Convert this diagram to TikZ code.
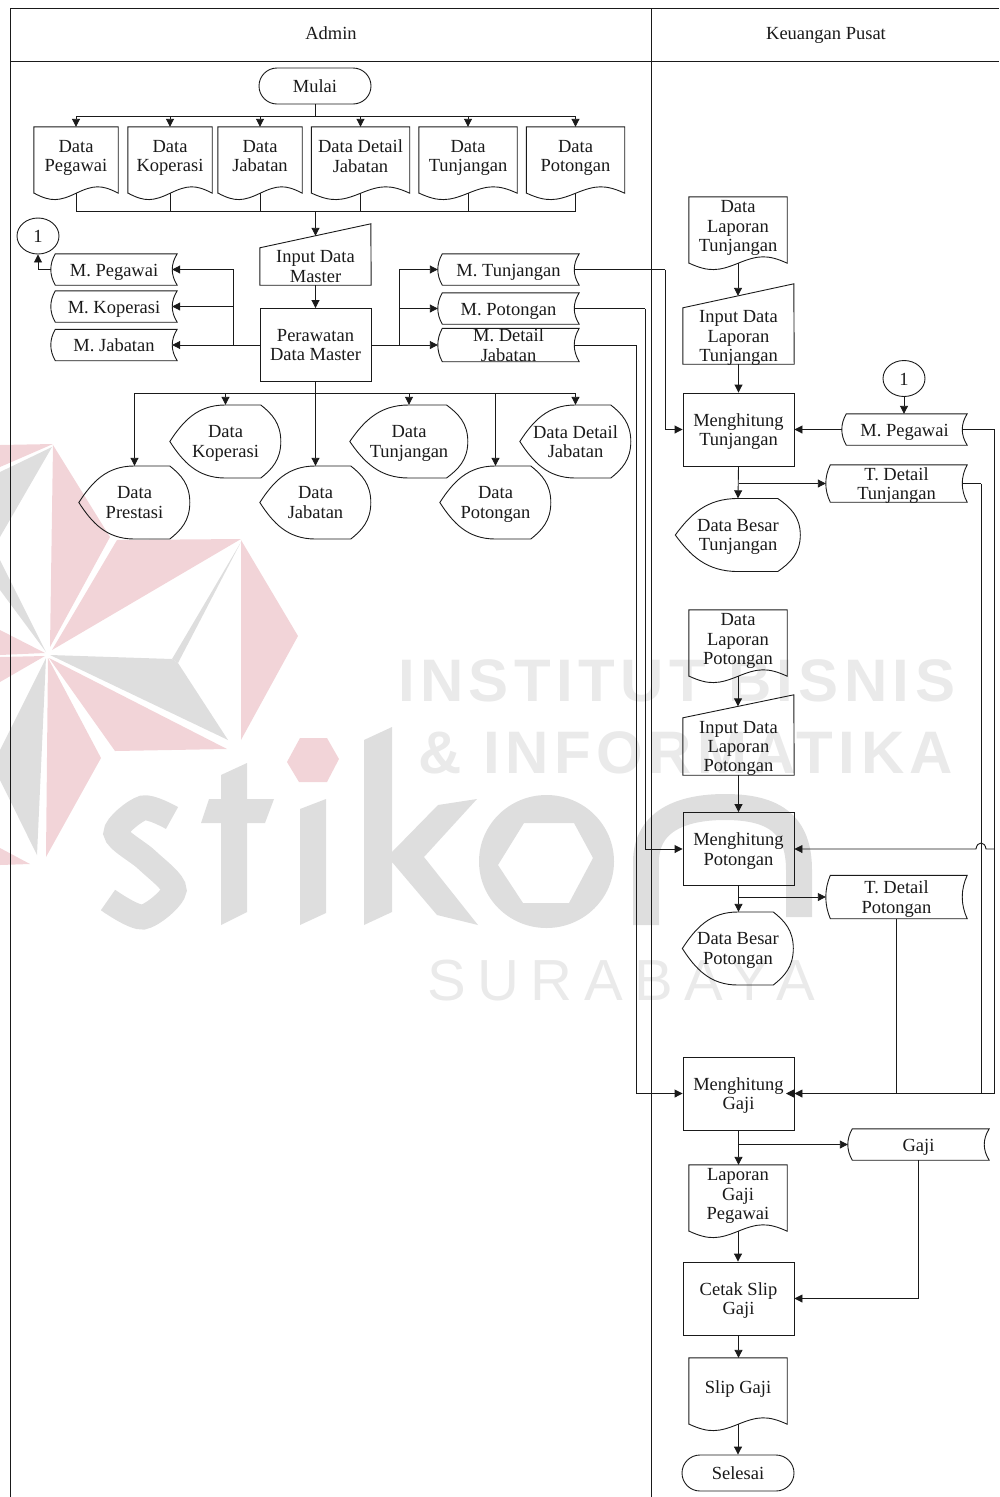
\documentclass[tikz,border=0pt]{standalone}
\usepackage{fontspec}
\setmainfont{Liberation Serif}
\newfontfamily\markFontA[LetterSpace=9]{Liberation Sans}
\newfontfamily\markFontB[LetterSpace=9]{Liberation Sans}
\newfontfamily\markFontC[LetterSpace=20]{Liberation Sans}
\usetikzlibrary{arrows.meta,shapes.geometric}

\tikzset{
    shapeLine/.style={draw=lineColour, line width=0.9pt},
    flowLine/.style={draw=lineColour, line width=0.9pt},
    flowArrow/.style={flowLine, -{Triangle[length=8pt,width=8pt]}},
    plainText/.style={align=center, inner sep=0pt, text=textColour, font=\fontsize{18.5}{19.2}\selectfont,
        text depth=0pt, execute at begin node={\strut}, execute at end node={\strut}},
    procBox/.style={plainText, shapeLine, rectangle, minimum width=111, minimum height=73},
    startStop/.style={plainText, shapeLine, rectangle, rounded corners=18pt, minimum width=112, minimum height=36},
    connectOne/.style={plainText, shapeLine, ellipse, minimum width=42, minimum height=36},
    % page shape: the wave hangs 8 below the node
    docShape/.style 2 args={plainText, minimum width=#1, minimum height=58,
        append after command={\pgfextra{
            \edef\thisShape{\tikzlastnode}
            \draw[shapeLine] ([yshift=-8pt]\thisShape.south west) -- (\thisShape.north west)
                -- (\thisShape.north east) -- ([yshift=-8pt]\thisShape.south east)
                .. controls +(-.2*#1,-9) and +(.2*#1,-8) .. ++(-.5*#1,0)
                .. controls +(-.2*#1,8) and +(.2*#1,9) .. ++(-.5*#1,0) -- cycle;
            \coordinate (\thisShape-b) at ([yshift=-8pt]\thisShape.south);
        }}},
    % slanted top rises #3 above the node
    inputShape/.style n args={3}{plainText, minimum width=#1, minimum height=#2,
        append after command={\pgfextra{
            \edef\thisShape{\tikzlastnode}
            \draw[shapeLine] (\thisShape.north west) -- ++(#1,-#3)
                -- (\thisShape.south east) -- (\thisShape.south west) -- cycle;
            \coordinate (\thisShape-t) at ([yshift=.5*#3 pt]\thisShape.north);
        }}},
    storeShape/.style 2 args={plainText, minimum width=#1, minimum height=#2,
        append after command={\pgfextra{
            \edef\thisShape{\tikzlastnode}
            \draw[shapeLine] ([xshift=4.5pt]\thisShape.north west)
                .. controls +(-6,.33*#2) and +(-6,-.33*#2) .. ([xshift=4.5pt]\thisShape.south west)
                -- (\thisShape.south east)
                .. controls +(-6.6,-.33*#2) and +(-6.6,.33*#2) .. (\thisShape.north east) -- cycle;
            \coordinate (\thisShape-e) at ([xshift=-5pt]\thisShape.east);
        }}},
    dispShape/.style 2 args={plainText, minimum width=#1, minimum height=#2,
        append after command={\pgfextra{
            \edef\thisShape{\tikzlastnode}
            \draw[shapeLine] (\thisShape.west)
                .. controls +(.12*#1,-.28*#2) and +(-.25*#1,0) .. ++(.5*#1,-.5*#2)
                -- ++(.32*#1,0)
                .. controls +(.1*#1,.12*#2) and +(0,-.25*#2) .. ++(.18*#1,.5*#2)
                .. controls +(0,.25*#2) and +(.1*#1,-.12*#2) .. ++(-.18*#1,.5*#2)
                -- ++(-.32*#1,0)
                .. controls +(-.25*#1,0) and +(.12*#1,.28*#2) .. (\thisShape.west) -- cycle;
        }}}
}

\begin{document}
\begin{tikzpicture}[x=1pt,y=-1pt]
    \definecolor{lineColour}{HTML}{1A1A1A}
    \definecolor{textColour}{HTML}{1A1A1A}
    \definecolor{markPink}{HTML}{F2D4D8}
    \definecolor{markGrey}{HTML}{DEDEDE}
    \definecolor{markText}{HTML}{EAEAEA}

    \useasboundingbox (0,0) rectangle (999,1497);

    % Watermark star
    \fill[markPink] (0,445) -- (53,444) -- (0,467) -- cycle;
    \fill[markGrey] (52,447) -- (0,472) -- (0,537) -- cycle;
    \fill[markGrey] (0,560) -- (46,652) -- (0,590) -- cycle;
    \fill[markPink] (53,445) -- (110,537) -- (50,647) -- cycle;
    \fill[markPink] (117,540) -- (241,539) -- (52,650) -- cycle;
    \fill[markGrey] (241,542) -- (178,663) -- (172,659) -- cycle;
    \fill[markGrey] (50,655) -- (172,659) -- (178,663) -- (228,740) -- cycle;
    \fill[markPink] (241,540) -- (298,636) -- (241,740) -- cycle;
    \fill[markPink] (49,658) -- (227,749) -- (115,751) -- cycle;
    \fill[markPink] (48,658) -- (101,758) -- (46,857) -- cycle;
    \fill[markGrey] (46,658) -- (37,855) -- (0,780) -- (0,750) -- cycle;
    \fill[markPink] (0,848) -- (30,864) -- (0,865) -- cycle;
    \fill[markPink] (0,630) -- (45,653) -- (0,655) -- cycle;
    \fill[markPink] (0,657) -- (45,656) -- (0,682) -- cycle;

    % Watermark word
    \draw[markGrey, line width=25pt] plot[smooth] coordinates {(172,818) (143,808) (116,833) (147,860) (174,890) (143,917) (108,900)};
    \fill[markGrey] (221,775) -- (247,763) -- (247,799) -- (274,799) -- (265,823) -- (247,823) -- (247,912) -- (221,925) -- (221,823) -- (201,823) -- (209,799) -- (221,799) -- cycle;
    \fill[markPink] (300,738) -- (327,738) -- (339,759) -- (327,782) -- (299,782) -- (287,762) -- cycle;
    \fill[markGrey] (300,809) -- (326,799) -- (326,913) -- (300,925) -- cycle;
    \fill[markGrey] (364,740) -- (392,727) -- (392,852) -- (438,805) -- (477,799) -- (424,857) -- (478,925) -- (437,915) -- (392,862) -- (392,912) -- (364,925) -- cycle;
    \fill[markGrey, even odd rule] (546.5,861.5) ellipse [x radius=67.5, y radius=66.5]
        (524,823) -- (574,823) -- (593,858) -- (569,903) -- (523,903) -- (498,865) -- cycle;
    \draw[markGrey, line width=26pt] (646,925) -- (646,862) .. controls (646,822) and (680,807) .. (725,807) .. controls (775,807) and (799,825) .. (799,870) -- (799,917);

    % Watermark lines
    \node[anchor=west, inner sep=0pt, text=markText, font=\markFontA\bfseries\fontsize{60}{60}\selectfont] (markOne) at (398,681) {INSTITUT BISNIS};
    \node[anchor=west, inner sep=0pt, text=markText, font=\markFontB\bfseries\fontsize{60}{60}\selectfont] (markTwo) at (418,753) {\& INFORMATIKA};
    \node[anchor=west, inner sep=0pt, text=markText, font=\markFontC\fontsize{58}{58}\selectfont] (markThree) at (427,981) {SURABAYA};

    % Swimlane frame
    \draw[flowLine] (10.5,1497) -- (10.5,8) -- (999,8);
    \draw[flowLine] (10.5,61.5) -- (999,61.5);
    \draw[flowLine] (651.5,8) -- (651.5,1497);
    \node[plainText] (laneAdmin) at (331,33) {Admin};
    \node[plainText] (laneKeuangan) at (826,33) {Keuangan Pusat};

    % Admin: start and source documents
    \node[startStop] (mulai) at (315,86) {Mulai};
    \node[docShape={84}{58}] (docPegawai) at (76,156) {Data\\Pegawai};
    \node[docShape={84}{58}] (docKoperasi) at (170,156) {Data\\Koperasi};
    \node[docShape={84}{58}] (docJabatan) at (260,156) {Data\\Jabatan};
    \node[docShape={98}{58}] (docDetail) at (360.5,156) {Data Detail\\Jabatan};
    \node[docShape={98}{58}] (docTunjangan) at (468,156) {Data\\Tunjangan};
    \node[docShape={98}{58}] (docPotongan) at (575.5,156) {Data\\Potongan};

    % Admin: input and process
    \node[inputShape={111}{37}{24}] (inputMaster) at (315.5,266.5) {Input Data\\Master};
    \node[procBox] (rawatMaster) at (315.5,345) {Perawatan\\Data Master};
    \node[connectOne] (oneLeft) at (38,236) {1};

    % Admin: master files
    \node[storeShape={126}{31}] (mPegawai) at (114,269.5) {M. Pegawai};
    \node[storeShape={126}{31}] (mKoperasi) at (114,306.5) {M. Koperasi};
    \node[storeShape={126}{31}] (mJabatan) at (114,345) {M. Jabatan};
    \node[storeShape={141}{31}] (mTunjangan) at (508.5,269.5) {M. Tunjangan};
    \node[storeShape={141}{31}] (mPotongan) at (508.5,308.5) {M. Potongan};
    \node[storeShape={141}{33}] (mDetail) at (508.5,345) {M. Detail\\Jabatan};

    % Admin: displays
    \node[dispShape={111}{73}] (dispPrestasi) at (134.5,502.5) {Data\\Prestasi};
    \node[dispShape={111}{73}] (dispKoperasi) at (225.5,441.5) {Data\\Koperasi};
    \node[dispShape={111}{73}] (dispJabatan) at (315.5,502.5) {Data\\Jabatan};
    \node[dispShape={118}{73}] (dispTunjangan) at (409,441.5) {Data\\Tunjangan};
    \node[dispShape={111}{73}] (dispPotongan) at (495.5,502.5) {Data\\Potongan};
    \node[dispShape={111}{73}] (dispDetail) at (575.5,441.5) {Data Detail\\Jabatan};

    % Keuangan: tunjangan
    \node[docShape={98}{58}] (lapTunjangan) at (738,226) {Data\\Laporan\\Tunjangan};
    \node[inputShape={111}{56}{24}] (inputTunjangan) at (738.5,336) {Input Data\\Laporan\\Tunjangan};
    \node[procBox] (hitTunjangan) at (738.5,429.5) {Menghitung\\Tunjangan};
    \node[connectOne] (oneRight) at (904,378.5) {1};
    \node[storeShape={125}{31}] (mPegawaiPusat) at (904.5,429.5) {M. Pegawai};
    \node[storeShape={141}{37}] (tTunjangan) at (896.5,483.5) {T. Detail\\Tunjangan};
    \node[dispShape={125}{73}] (besarTunjangan) at (738,535) {Data Besar\\Tunjangan};

    % Keuangan: potongan
    \node[docShape={98}{58}] (lapPotongan) at (738,639) {Data\\Laporan\\Potongan};
    \node[inputShape={111}{57}{23}] (inputPotongan) at (738.5,746.5) {Input Data\\Laporan\\Potongan};
    \node[procBox] (hitPotongan) at (738.5,849) {Menghitung\\Potongan};
    \node[storeShape={141}{43}] (tPotongan) at (896.5,897) {T. Detail\\Potongan};
    \node[dispShape={111}{73}] (besarPotongan) at (738,948.5) {Data Besar\\Potongan};

    % Keuangan: gaji
    \node[procBox] (hitGaji) at (738.5,1093.5) {Menghitung\\Gaji};
    \node[storeShape={141}{31}] (fileGaji) at (918.5,1144.5) {Gaji};
    \node[docShape={98}{58}] (lapGaji) at (738,1194) {Laporan\\Gaji\\Pegawai};
    \node[procBox] (cetakSlip) at (738.5,1298.5) {Cetak Slip\\Gaji};
    \node[docShape={98}{58}] (slipGaji) at (738,1387) {Slip Gaji};
    \node[startStop] (selesai) at (738,1473) {Selesai};

    % Buses and rails
    \coordinate (busTop) at (315,116);
    \coordinate (busDocs) at (315,211);
    \coordinate (busLeft) at (233,345);
    \coordinate (busRight) at (399,345);
    \coordinate (busDisp) at (315,393);
    \coordinate (railTunjangan) at (665,269.5);
    \coordinate (railPotongan) at (645,308.5);
    \coordinate (railDetail) at (636,345);
    \coordinate (railPegawai) at (994.5,429.5);
    \coordinate (railDetailT) at (981,483.5);
    \coordinate (hopRight) at (986,849);
    \coordinate (hopLeft) at (976,849);
    \coordinate (tipGaji) at (786,1093.5);
    \coordinate (branchTunjangan) at (738.5,483.5);
    \coordinate (branchPotongan) at (738.5,897);
    \coordinate (branchGaji) at (738.5,1144.5);

    % Start to documents to input
    \draw[flowLine] (mulai.south) -- (mulai.south |- busTop);
    \draw[flowLine] (busTop -| docPegawai.north) -- (busTop -| docPotongan.north);
    \foreach \docName in {docPegawai,docKoperasi,docJabatan,docDetail,docTunjangan,docPotongan} {
        \draw[flowArrow] (busTop -| \docName.north) -- (\docName.north);
        \draw[flowLine] (\docName-b) -- (busDocs -| \docName-b);
    }
    \draw[flowLine] (busDocs -| docPegawai-b) -- (busDocs -| docPotongan-b);
    \draw[flowArrow] (busDocs -| inputMaster-t) -- (inputMaster-t);
    \draw[flowArrow] (inputMaster.south) -- (rawatMaster.north);

    % Process to master files
    \draw[flowLine] (rawatMaster.west) -- (busLeft);
    \draw[flowLine] (rawatMaster.east) -- (busRight);
    \foreach \fileName in {mPegawai,mKoperasi,mJabatan}
        \draw[flowArrow] (busLeft) |- (\fileName-e);
    \foreach \fileName in {mTunjangan,mPotongan,mDetail}
        \draw[flowArrow] (busRight) |- (\fileName.west);
    \draw[flowArrow] (mPegawai.west) -| (oneLeft.south);

    % Process to displays
    \draw[flowLine] (rawatMaster.south) -- (rawatMaster.south |- busDisp);
    \draw[flowLine] (busDisp -| dispPrestasi.north) -- (busDisp -| dispDetail.north);
    \foreach \dispName in {dispPrestasi,dispKoperasi,dispJabatan,dispTunjangan,dispPotongan,dispDetail}
        \draw[flowArrow] (busDisp -| \dispName.north) -- (\dispName.north);

    % Master files across the lane
    \draw[flowLine] (mTunjangan-e) -- (railTunjangan);
    \draw[flowArrow] (railTunjangan) |- (hitTunjangan.west);
    \draw[flowLine] (mPotongan-e) -- (railPotongan);
    \draw[flowArrow] (railPotongan) |- (hitPotongan.west);
    \draw[flowLine] (mDetail-e) -- (railDetail);
    \draw[flowArrow] (railDetail) |- (hitGaji.west);

    % Tunjangan column
    \draw[flowArrow] (lapTunjangan-b) -- (lapTunjangan-b |- inputTunjangan-t);
    \draw[flowArrow] (inputTunjangan.south) -- (hitTunjangan.north);
    \draw[flowArrow] (oneRight.south) -- (oneRight.south |- mPegawaiPusat.north);
    \draw[flowArrow] (mPegawaiPusat.west) -- (hitTunjangan.east);
    \draw[flowArrow] (hitTunjangan.south) -- (besarTunjangan.north);
    \draw[flowArrow] (branchTunjangan) -- (tTunjangan.west);

    % Potongan column
    \draw[flowArrow] (lapPotongan-b) -- (lapPotongan-b |- inputPotongan-t);
    \draw[flowArrow] (inputPotongan.south) -- (hitPotongan.north);
    \draw[flowArrow] (hitPotongan.south) -- (hitPotongan.south |- besarPotongan.north);
    \draw[flowArrow] (branchPotongan) -- (tPotongan.west);
    \draw[flowArrow] (railPegawai |- hopRight) -- (hopRight) .. controls +(-1,-8) and +(1,-8) .. (hopLeft) -- (hitPotongan.east);

    % Inputs of gaji
    \draw[flowLine] (mPegawaiPusat-e) -- (railPegawai);
    \draw[flowArrow] (railPegawai) |- (hitGaji.east);
    \draw[flowLine] (tTunjangan-e) -- (railDetailT);
    \draw[flowArrow] (railDetailT) |- (tipGaji);
    \draw[flowLine] (tPotongan.south) -- (tPotongan.south |- hitGaji.east);

    % Gaji column
    \draw[flowArrow] (hitGaji.south) -- (hitGaji.south |- lapGaji.north);
    \draw[flowArrow] (branchGaji) -- (fileGaji.west);
    \draw[flowArrow] (lapGaji-b) -- (lapGaji-b |- cetakSlip.north);
    \draw[flowArrow] (fileGaji.south) |- (cetakSlip.east);
    \draw[flowArrow] (cetakSlip.south) -- (cetakSlip.south |- slipGaji.north);
    \draw[flowArrow] (slipGaji-b) -- (slipGaji-b |- selesai.north);
\end{tikzpicture}
\end{document}
